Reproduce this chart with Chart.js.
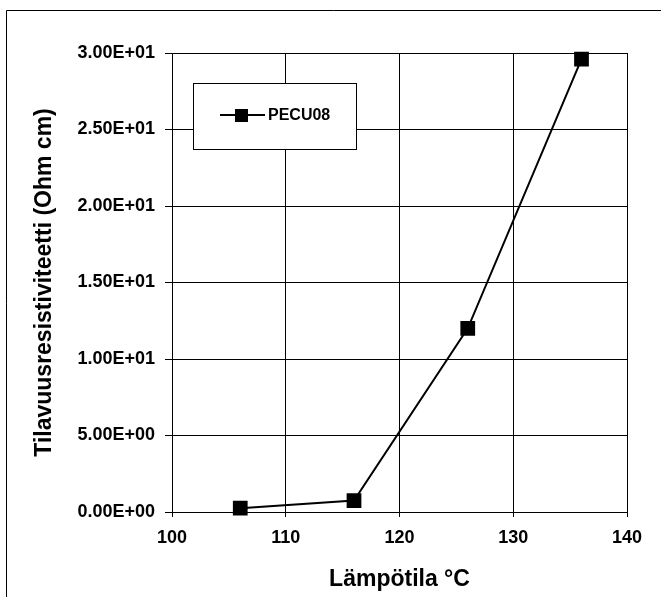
<!DOCTYPE html>
<html>
<head>
<meta charset="utf-8">
<script src="https://cdn.jsdelivr.net/npm/chart.js@4/dist/chart.umd.min.js"></script>
<style>
  html, body { margin: 0; padding: 0; background: #fff; }
  #wrap { width: 661px; height: 597px; }
</style>
</head>
<body>
<div id="wrap"><canvas id="kuva" width="661" height="597"></canvas></div>
<script>
// Mittaustulokset
const lampotilat = [106, 116, 126, 136];
const resistiivisyys = [0.25, 0.75, 12.0, 29.6];
const sarjanNimi = 'PECU08';
const xTitle = 'Lämpötila °C';
const yTitle = 'Tilavuusresistiviteetti (Ohm cm)';

// 3.00E+01 -tyyppinen muotoilu
function eMuoto(v) {
  const [m, e] = Number(v).toExponential(2).split('e');
  const n = parseInt(e, 10);
  return m + 'E' + (n < 0 ? '-' : '+') + String(Math.abs(n)).padStart(2, '0');
}

const fontti = 'Liberation Sans, Arial, sans-serif';

// Kehyksen ylä- ja vasen reuna sekä selite piirretään itse
const kehys = {
  id: 'kehys',
  afterDraw(chart) {
    const ctx = chart.ctx;
    ctx.save();
    ctx.strokeStyle = '#000';
    ctx.lineWidth = 1;
    ctx.beginPath();
    ctx.moveTo(6.5, 597);
    ctx.lineTo(6.5, 10.5);
    ctx.lineTo(661, 10.5);
    ctx.stroke();

    // selite
    const bx = 193, by = 83, bw = 163, bh = 66;
    ctx.fillStyle = '#fff';
    ctx.fillRect(bx, by, bw, bh);
    ctx.strokeRect(bx + 0.5, by + 0.5, bw, bh);
    const ly = by + 32;
    ctx.lineWidth = 2;
    ctx.beginPath();
    ctx.moveTo(220, ly);
    ctx.lineTo(265, ly);
    ctx.stroke();
    ctx.fillStyle = '#000';
    ctx.fillRect(235, ly - 6, 13, 13);
    ctx.font = 'bold 16px ' + fontti;
    ctx.textBaseline = 'middle';
    ctx.fillText(sarjanNimi, 268, ly + 1);
    ctx.restore();
  }
};

new Chart(document.getElementById('kuva').getContext('2d'), {
  type: 'scatter',
  data: {
    datasets: [{
      label: sarjanNimi,
      data: lampotilat.map((t, i) => ({ x: t, y: resistiivisyys[i] })),
      showLine: true,
      borderColor: '#000',
      backgroundColor: '#000',
      borderWidth: 2,
      pointStyle: 'rect',
      pointRadius: 9,
      pointHoverRadius: 9,
      clip: false
    }]
  },
  options: {
    responsive: false,
    animation: false,
    layout: { padding: { left: 0, top: 53, right: 34, bottom: 0 } },
    plugins: {
      legend: { display: false },
      tooltip: { enabled: false }
    },
    scales: {
      x: {
        type: 'linear',
        min: 100,
        max: 140,
        afterFit(s) { s.height = 85; },
        ticks: {
          stepSize: 10,
          color: '#000',
          padding: 10,
          font: { family: fontti, size: 18, weight: 'bold' }
        },
        grid: { color: '#000', lineWidth: 1, tickLength: 5 },
        border: { color: '#000', width: 1 },
        title: {
          display: true,
          text: xTitle,
          color: '#000',
          padding: { top: 10 },
          font: { family: fontti, size: 23, weight: 'bold' }
        }
      },
      y: {
        min: 0,
        max: 30,
        afterFit(s) { s.width = 172; },
        ticks: {
          stepSize: 5,
          color: '#000',
          padding: 10,
          callback: v => eMuoto(v),
          font: { family: fontti, size: 18, weight: 'bold' }
        },
        grid: { color: '#000', lineWidth: 1, tickLength: 7 },
        border: { color: '#000', width: 1 },
        title: {
          display: true,
          text: yTitle,
          color: '#000',
          padding: { top: 31 },
          font: { family: fontti, size: 23, weight: 'bold' }
        }
      }
    }
  },
  plugins: [kehys]
});
</script>
</body>
</html>
